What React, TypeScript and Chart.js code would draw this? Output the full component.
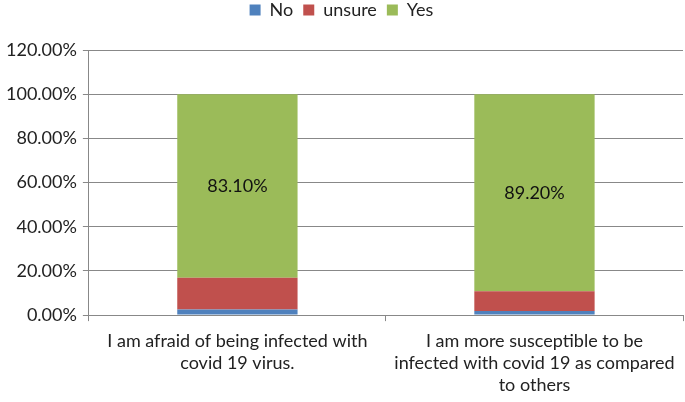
import React, { useEffect, useRef } from "react";
import { Chart, registerables } from "chart.js";

Chart.register(...registerables);

const categories: string[][] = [
  ["I am afraid of being infected with", "covid 19 virus."],
  ["I am more susceptible to be", "infected with covid 19 as compared", "to others"],
];
const noValues = [2.6, 1.9];
const unsureValues = [14.3, 8.9];
const yesValues = [83.1, 89.2];
const yesLabels = ["83.10%", "89.20%"];

const FONT = "Lato, 'Open Sans', sans-serif";

const labelPlugin = {
  id: "yesLabels",
  afterDatasetsDraw(chart: any) {
    const ctx = chart.ctx;
    const meta = chart.getDatasetMeta(2);
    ctx.save();
    ctx.font = `18px ${FONT}`;
    ctx.fillStyle = "#111";
    ctx.textAlign = "center";
    ctx.textBaseline = "middle";
    meta.data.forEach((bar: any, i: number) => {
      const y = (bar.y + bar.base) / 2;
      ctx.fillText(yesLabels[i], bar.x, y);
    });
    ctx.restore();
  },
};

const legendHeightPlugin = {
  id: "legendHeight",
  beforeInit(chart: any) {
    const legend = chart.legend;
    if (!legend) return;
    const origFit = legend.fit;
    legend.fit = function () {
      origFit.call(this);
      this.height = 59;
    };
  },
};

export default function App() {
  const ref = useRef<HTMLCanvasElement>(null);
  useEffect(() => {
    if (!ref.current) return;
    const chart = new Chart(ref.current, {
      type: "bar",
      data: {
        labels: categories,
        datasets: [
          { label: "No", data: noValues, backgroundColor: "#4F81BD" },
          { label: "unsure", data: unsureValues, backgroundColor: "#C0504D" },
          { label: "Yes", data: yesValues, backgroundColor: "#9BBB59" },
        ],
      },
      options: {
        animation: false,
        responsive: false,
        maintainAspectRatio: false,
        datasets: { bar: { barPercentage: 0.405, categoryPercentage: 1 } },
        layout: { padding: { left: 0, right: 2, top: -9, bottom: -3 } },
        plugins: {
          legend: {
            position: "top",
            labels: {
              boxWidth: 11,
              boxHeight: 11,
              padding: 10,
              color: "#222",
              font: { family: FONT, size: 18 },
            },
          },
          tooltip: { enabled: false },
        },
        scales: {
          x: {
            stacked: true,
            grid: {
              offset: true,
              drawOnChartArea: false,
              color: "#888",
              tickLength: 6,
            },
            border: { color: "#888" },
            ticks: {
              color: "#222",
              font: { family: FONT, size: 18, lineHeight: 1.22 },
              padding: 9,
              maxRotation: 0,
              autoSkip: false,
            },
          },
          y: {
            stacked: true,
            min: 0,
            max: 120,
            ticks: {
              stepSize: 20,
              color: "#222",
              font: { family: FONT, size: 18 },
              padding: 6,
              callback: (v: any) => `${Number(v).toFixed(2)}%`,
            },
            grid: { color: "#888", tickLength: 6 },
            border: { color: "#888" },
          },
        },
      },
      plugins: [legendHeightPlugin, labelPlugin],
    } as any);
    return () => chart.destroy();
  }, []);
  return (
    <div style={{ position: "fixed", left: 0, top: 0, width: 685, height: 402, background: "#fff" }}>
      <canvas ref={ref} width={685} height={402} style={{ width: 685, height: 402 }} />
    </div>
  );
}
